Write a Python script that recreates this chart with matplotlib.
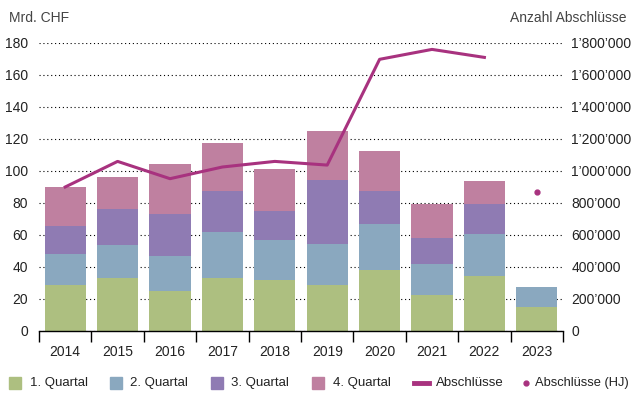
import numpy as np
import matplotlib.pyplot as plt
from matplotlib.ticker import FuncFormatter
from matplotlib.lines import Line2D
from matplotlib.patches import Rectangle

years = ["2014", "2015", "2016", "2017", "2018", "2019", "2020", "2021", "2022", "2023"]
q1 = [29.0, 33.3, 25.0, 33.3, 32.0, 28.8, 38.3, 22.5, 34.6, 15.0]
q2 = [19.0, 20.5, 21.9, 28.7, 24.9, 25.6, 28.7, 19.5, 26.2, 12.5]
q3 = [17.5, 22.5, 26.4, 25.5, 18.1, 40.0, 20.5, 16.3, 18.8, 0.0]
q4 = [24.5, 20.0, 31.1, 30.0, 26.2, 30.6, 25.0, 21.1, 14.2, 0.0]
abschluesse = [900000, 1060000, 952000, 1025000, 1060000, 1037000, 1698000, 1760000, 1710000]
abschluesse_hj = 867000  # 2023, Halbjahr

colors = ["#adbf80", "#8aa8bf", "#8f7bb3", "#bf80a0"]
line_color = "#a8327f"
labels = ["1. Quartal", "2. Quartal", "3. Quartal", "4. Quartal"]

plt.rcParams["font.family"] = ["Liberation Sans", "DejaVu Sans"]
plt.rcParams["font.size"] = 10

W, H = 631, 401
fig = plt.figure(figsize=(W / 100, H / 100), dpi=100)
ax = fig.add_axes([39 / W, 1 - 331 / H, (563 - 39) / W, (331 - 43) / H])
ax2 = ax.twinx()

x = np.arange(len(years))
bottom = np.zeros(len(years))
for vals, c in zip([q1, q2, q3, q4], colors):
    ax.bar(x, vals, width=0.79, bottom=bottom, color=c, zorder=2)
    bottom += np.array(vals)

ax.set_xlim(-0.5, len(years) - 0.5)
ax.set_ylim(0, 180)
ax.set_yticks(range(0, 181, 20))
ax.yaxis.grid(True, linestyle=(0, (1, 2.5)), color="black", linewidth=0.8, zorder=0)
ax.set_axisbelow(True)
ax.tick_params(axis="y", length=0, pad=8, labelsize=10, colors="#222222")

ax.set_xticks(x)
ax.set_xticklabels(years)
ax.set_xticks(np.arange(-0.5, len(years), 1), minor=True)
ax.tick_params(axis="x", which="major", length=0, pad=10, labelsize=10, colors="#222222")
ax.tick_params(axis="x", which="minor", length=8, width=1, color="black")

for s in ["top", "left", "right"]:
    ax.spines[s].set_visible(False)
    ax2.spines[s].set_visible(False)
ax2.spines["bottom"].set_visible(False)
ax.spines["bottom"].set_color("black")
ax.spines["bottom"].set_linewidth(1)

ax2.plot(x[:len(abschluesse)], abschluesse, color=line_color, linewidth=2.2, zorder=3)
ax2.plot([x[-1]], [abschluesse_hj], "o", color=line_color, markersize=3.5, zorder=3)
ax2.set_ylim(0, 1800000)
ax2.set_yticks(range(0, 1800001, 200000))
ax2.yaxis.set_major_formatter(FuncFormatter(lambda v, p: f"{int(v):,}".replace(",", "\u2019")))
ax2.tick_params(axis="y", length=0, pad=6, labelsize=10, colors="#222222")

fig.text(9 / W, 1 - 18 / H, "Mrd. CHF", fontsize=10, color="#444444", va="center")
fig.text(627 / W, 1 - 18 / H, "Anzahl Abschl\u00fcsse", fontsize=10, color="#444444",
         va="center", ha="right")

# legend, placed by hand
ly = 1 - 383 / H
for px, tx, c, lab in zip([9, 110, 211, 312], [30, 130, 231, 333], colors, labels):
    fig.patches.append(Rectangle((px / W, ly - 5.5 / H), 11.5 / W, 11.5 / H,
                                 transform=fig.transFigure, color=c))
    fig.text(tx / W, ly, lab, fontsize=9.5, color="#222222", va="center")
fig.lines.append(Line2D([414 / W, 429 / W], [ly, ly], transform=fig.transFigure,
                        color=line_color, linewidth=3.5))
fig.text(436 / W, ly, "Abschl\u00fcsse", fontsize=9.5, color="#222222", va="center")
fig.lines.append(Line2D([526 / W], [ly], transform=fig.transFigure, color=line_color,
                        marker="o", markersize=3.5, linestyle="none"))
fig.text(535 / W, ly, "Abschl\u00fcsse (HJ)", fontsize=9.3, color="#222222", va="center")

fig.savefig("out.png", dpi=100)
